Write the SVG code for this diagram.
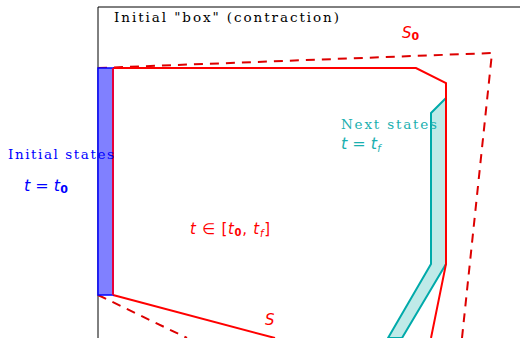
<svg xmlns="http://www.w3.org/2000/svg" width="520" height="338" viewBox="0 0 520 338">
<style>
.serif{font-family:"DejaVu Serif","Liberation Serif",serif;}
.math{font-family:"DejaVu Sans","Liberation Sans",sans-serif;font-style:italic;}
.sub{font-family:"DejaVu Sans","Liberation Sans",sans-serif;font-style:normal;font-weight:bold;}
.red{fill:#ff0000;}
.teal{fill:#1ab0b0;}
.blue{fill:#0000ff;}
</style>
<rect width="520" height="338" fill="#ffffff"/>
<g id="axes" fill="none" stroke="#000" stroke-width="1">
<line x1="98" y1="7" x2="98" y2="338"/>
<line x1="98" y1="7" x2="520" y2="7"/>
</g>
<g id="initial-box" fill="none" stroke="#dd0000" stroke-width="2" stroke-dasharray="9,7">
<polyline points="98,68 492,53 462,338"/>
<line x1="98" y1="295" x2="187" y2="338"/>
</g>
<g id="next-states">
<polygon points="446,98 431,113 431,264 388,338 402,338 446,264" fill="#bfeae8" stroke="#00aaaa" stroke-width="2" stroke-linejoin="round"/>
</g>
<g id="reach-set" fill="none" stroke="#ff0000" stroke-width="2">
<polyline points="113,68 416,68 446,83 446,264 431,338"/>
<line x1="113" y1="295" x2="275" y2="338"/>
</g>
<g id="initial-states">
<rect x="98" y="68" width="15" height="227" fill="#8080ff" stroke="#0000ff" stroke-width="1.5"/>
<line x1="113" y1="68" x2="113" y2="295" stroke="#e8003a" stroke-width="2"/>
</g>
<g id="labels">
<text class="serif" x="114" y="22" font-size="13.5" textLength="225" lengthAdjust="spacing" fill="#000">Initial "box" (contraction)</text>
<text class="math red" x="402" y="38" font-size="15">S<tspan class="sub" font-size="11" dy="2">0</tspan></text>
<text class="serif teal" x="341" y="129" font-size="13.5" textLength="96" lengthAdjust="spacing">Next states</text>
<text class="math teal" x="341" y="149" font-size="16">t <tspan font-style="normal">=</tspan> t<tspan font-size="10" dy="3">f</tspan></text>
<text class="serif blue" x="8" y="159" font-size="13.5" textLength="106" lengthAdjust="spacing">Initial states</text>
<text class="math blue" x="24" y="191" font-size="16">t <tspan font-style="normal">=</tspan> t<tspan class="sub" font-size="11" dy="2">0</tspan></text>
<text class="math red" x="190" y="234" font-size="15" textLength="80" lengthAdjust="spacing">t <tspan font-style="normal">∈ [</tspan>t<tspan class="sub" font-size="10" dy="2">0</tspan><tspan font-style="normal" dy="-2">, </tspan>t<tspan font-size="10" dy="3">f</tspan><tspan font-style="normal" dy="-3">]</tspan></text>
<text class="math red" x="265" y="325" font-size="15">S</text>
</g>
</svg>
